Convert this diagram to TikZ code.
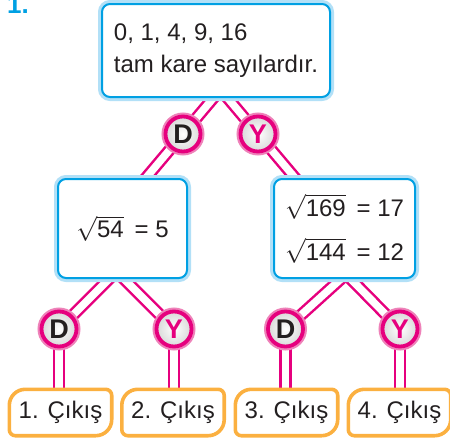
\documentclass[tikz,border=0pt]{standalone}
\usepackage{fontspec}
\setmainfont{Liberation Sans}
\usetikzlibrary{calc}
\pgfdeclarelayer{bg}
\pgfsetlayers{bg,main}
\definecolor{mag}{RGB}{230,0,126}
\definecolor{magl}{RGB}{238,130,185}
\definecolor{cyanb}{RGB}{0,160,227}
\definecolor{cyanl}{RGB}{178,224,247}
\definecolor{orng}{RGB}{251,176,64}
\definecolor{ink}{RGB}{35,31,32}
\begin{document}
\begin{tikzpicture}[x=1pt,y=1pt,
  every node/.style={text=ink, font=\fontsize{24}{32}\selectfont},
  qbox/.style={draw=cyanb, line width=2, fill=white, rounded corners=8, inner sep=0,
    preaction={draw=cyanl, line width=8}},
  dy/.style={circle, draw=mag, line width=3.8, minimum size=35, inner sep=0,
    inner color=white, outer color=gray!30,
    preaction={draw=magl, line width=8},
    font=\bfseries\fontsize{27}{27}\selectfont},
  conn/.style={draw=mag, line width=2.5, double=white, double distance=7.5},
  outtxt/.style={minimum width=102, minimum height=46, inner sep=0},
  obox/.style={draw=orng, line width=3.6, line join=round},
]
\useasboundingbox (0,0) rectangle (450,-442);

\node[font=\bfseries\fontsize{26}{26}\selectfont, text=cyanb, anchor=base west, inner sep=0] (num) at (7,-13) {1.};

\node[qbox, minimum width=228, minimum height=93, align=left] (top) at (216,-50.5)
  {0, 1, 4, 9, 16\\tam kare sayılardır.};

\node[dy] (d0) at (183,-134) {D};
\node[dy, text=mag] (y0) at (258,-134) {Y};

\node[qbox, minimum width=129, minimum height=99] (lb) at (122.5,-228.5)
  {$\sqrt{\mbox{54}}$\hspace{0.45em}= 5};
\node[qbox, minimum width=141, minimum height=99, align=left] (rb) at (344.5,-228.5)
  {$\sqrt{\mbox{169}}$\hspace{0.45em}= 17\\[12pt]$\sqrt{\mbox{144}}$\hspace{0.45em}= 12};

\node[dy] (d1) at (59,-329) {D};
\node[dy, text=mag] (y1) at (174,-329) {Y};
\node[dy] (d2) at (285.5,-329) {D};
\node[dy, text=mag] (y2) at (400,-329) {Y};

\node[outtxt] (o1) at (60.5,-412.5) {1. Çıkış};
\node[outtxt] (o2) at (173,-412.5) {2. Çıkış};
\node[outtxt] (o3) at (286.5,-412.5) {3. Çıkış};
\node[outtxt] (o4) at (399.5,-412.5) {4. Çıkış};

\foreach \o in {o1,o2,o3,o4}{
  \draw[obox] ([yshift=-16]\o.north west) arc[start angle=180,end angle=90,radius=16]
    -- ([xshift=-6]\o.north east) arc[start angle=90,end angle=0,radius=6]
    -- ([yshift=16]\o.south east) arc[start angle=0,end angle=-90,radius=16]
    -- ([xshift=6]\o.south west) arc[start angle=270,end angle=180,radius=6]
    -- cycle;
}

\coordinate (ta) at (218.4,-92);
\coordinate (tb) at (222.6,-92);
\coordinate (la) at (136.6,-189);
\coordinate (ra) at (304.4,-189);
\coordinate (lc) at (120,-268);
\coordinate (ld) at (113,-268);
\coordinate (rc) at (353,-268);
\coordinate (rd) at (340,-268);

\begin{pgfonlayer}{bg}
  \draw[conn] (ta) -- (d0.center) -- (la);
  \draw[conn] (tb) -- (y0.center) -- (ra);
  \draw[conn] (lc) -- (d1.center);
  \draw[conn] (ld) -- (y1.center);
  \draw[conn] (rc) -- (d2.center);
  \draw[conn] (rd) -- (y2.center);
  \draw[conn] (d1.center) -- (d1.center |- o1.north);
  \draw[conn] (y1.center) -- (y1.center |- o2.north);
  \draw[conn] (d2.center) -- (d2.center |- o3.north);
  \draw[conn] (y2.center) -- (y2.center |- o4.north);
\end{pgfonlayer}
\end{tikzpicture}
\end{document}
